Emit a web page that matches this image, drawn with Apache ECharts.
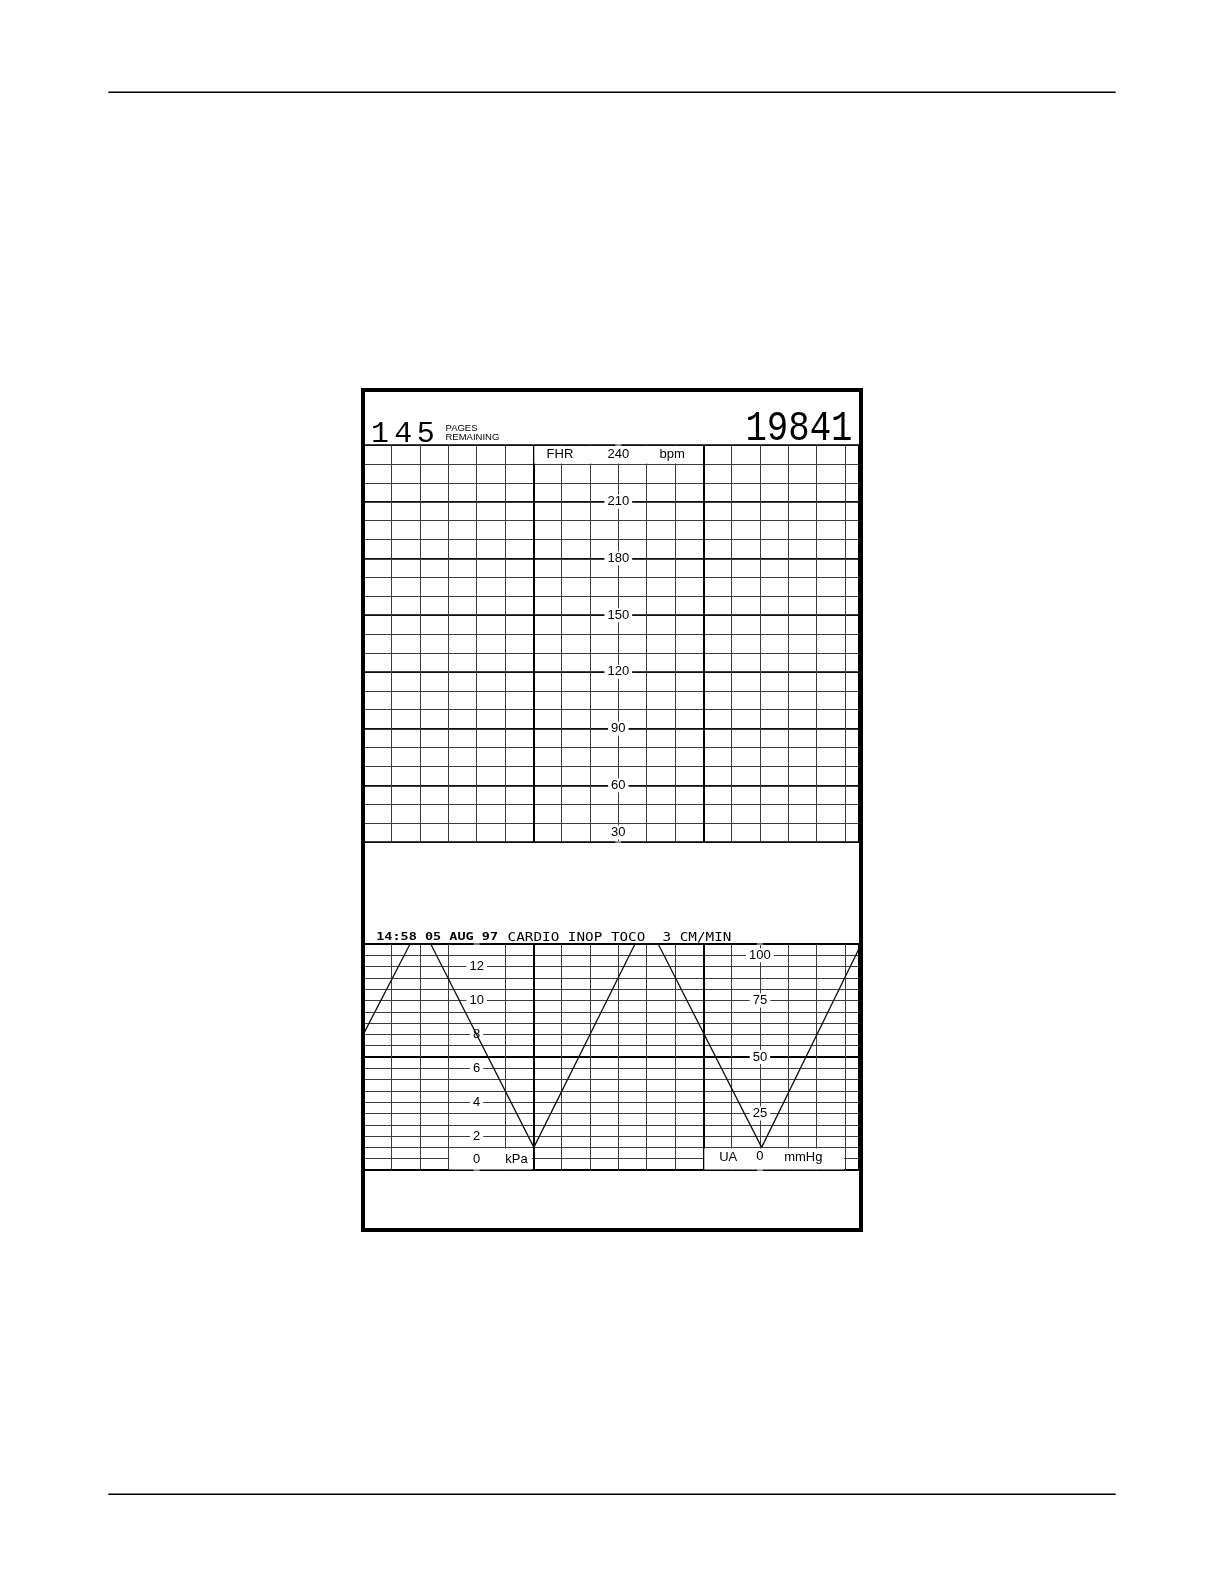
<!DOCTYPE html>
<html><head><meta charset="utf-8">
<script src="https://cdn.jsdelivr.net/npm/echarts@6/dist/echarts.min.js"></script>
<style>html,body{margin:0;padding:0;background:#fff}#c{width:1224px;height:1584px}</style>
</head><body><div id="c"></div>
<script>
// ---------- data ----------
const timeSec = [0, 16.5, 23.8, 60.2, 95.9, 104.1, 140.6, 175];   // seconds along paper
const uaMmHg  = [60, 100, 100, 10, 100, 100, 10, 98];              // uterine activity trace
const fhrTickLabels  = [60, 90, 120, 150, 180, 210];
const kpaTickLabels  = [2, 4, 6, 8, 10, 12];
const mmHgTickLabels = [25, 50, 75];
const pagesDigits = ['1', '4', '5'];
const serialNo = '19841';
const headerBold = '14:58 05 AUG 97';
const headerRest = 'CARDIO INOP TOCO  3 CM/MIN';

const FHR_MIN = 30, FHR_MAX = 240;
const UA_MIN = 0, UA_MAX = 100;
const T_MIN = 0, T_MAX = 175;
const KPA_PER_MMHG = 1 / 7.50062;

const chart = echarts.init(document.getElementById('c'), null, {renderer: 'canvas'});

const MINOR = '#3c3c3c', MAJOR = '#000';
const LBL = {fontFamily: 'Liberation Sans', fontSize: 13, color: '#000'};

function xAx(gi, interval, color, width) {
  return {gridIndex: gi, type: 'value', min: T_MIN, max: T_MAX, interval: interval,
    axisLine: {show: false, onZero: false}, axisTick: {show: false}, axisLabel: {show: false},
    splitLine: {show: true, lineStyle: {color: color, width: width}}, z: 0};
}
function yAx(gi, min, max, interval, color, width) {
  return {gridIndex: gi, type: 'value', position: 'left', min: min, max: max, interval: interval,
    axisLine: {show: false, onZero: false}, axisTick: {show: false}, axisLabel: {show: false},
    splitLine: {show: true, lineStyle: {color: color, width: width}}, z: 0};
}
function yLabelAx(gi, min, max, interval, offsetSec, shown) {
  return {gridIndex: gi, type: 'value', position: 'left', min: min, max: max, interval: interval,
    offset: -offsetSec * (495.8 / (T_MAX - T_MIN)),
    axisLine: {show: false, onZero: false}, axisTick: {show: false}, splitLine: {show: false},
    axisLabel: Object.assign({show: true, margin: 0, align: 'center', verticalAlign: 'middle',
      backgroundColor: '#fff', padding: [1, 3, 0, 3],
      formatter: function (v) { return shown.indexOf(Math.round(v * 1000) / 1000) >= 0 ? String(v) : ''; }}, LBL),
    z: 3};
}

// lower minor vertical lines: the kPa label column (40 s) carries no line
const lowerMinorColors = [];
for (let t = 0; t <= 170; t += 10) lowerMinorColors.push(t === 40 ? 'rgba(0,0,0,0)' : MINOR);
lowerMinorColors.push(MINOR);

const lowerMinorX = xAx(1, 10, MINOR, 1);
lowerMinorX.splitLine.lineStyle.color = lowerMinorColors;

chart.setOption({
  animation: false,
  backgroundColor: '#fff',
  textStyle: {fontFamily: 'Liberation Sans'},
  grid: [
    {left: 363.3, top: 445, width: 495.8, height: 397},
    {left: 363.3, top: 944, width: 495.8, height: 226}
  ],
  xAxis: [
    xAx(0, 10, MINOR, 1),
    xAx(0, 60, MAJOR, 2),
    lowerMinorX,
    xAx(1, 60, MAJOR, 2)
  ],
  yAxis: [
    yAx(0, FHR_MIN, FHR_MAX, 10, MINOR, 1),
    yAx(0, FHR_MIN, FHR_MAX, 30, MAJOR, 1.6),
    yLabelAx(0, FHR_MIN, FHR_MAX, 30, 90, fhrTickLabels),
    yAx(1, UA_MIN, UA_MAX, 5, MINOR, 1),
    yAx(1, UA_MIN, UA_MAX, 50, MAJOR, 1.8),
    yLabelAx(1, UA_MIN, UA_MAX, 25, 140, mmHgTickLabels),
    yLabelAx(1, UA_MIN * KPA_PER_MMHG, UA_MAX * KPA_PER_MMHG, 2, 40, kpaTickLabels)
  ],
  series: [{
    type: 'line', xAxisIndex: 2, yAxisIndex: 3,
    data: timeSec.map(function (t, i) { return [t, uaMmHg[i]]; }),
    symbol: 'none', clip: false, silent: true, z: 10,
    lineStyle: {color: '#111', width: 1.3}
  }]
});

const P0 = (x, y) => chart.convertToPixel({xAxisIndex: 0, yAxisIndex: 0}, [x, y]);
const P1 = (x, y) => chart.convertToPixel({xAxisIndex: 2, yAxisIndex: 3}, [x, y]);

function txt(p, s, styleExtra, elExtra) {
  const el = {type: 'text', x: p[0], y: p[1], z: 4, silent: true,
    style: Object.assign({text: s, fill: '#000', fontFamily: 'Liberation Sans', fontSize: 13,
      align: 'center', verticalAlign: 'middle'}, styleExtra || {})};
  return Object.assign(el, elExtra || {});
}
function box(a, b, insetR) {
  return {type: 'rect', z: 2, silent: true,
    shape: {x: a[0] + 1, y: a[1] + 1, width: b[0] - a[0] - 1 - insetR, height: b[1] - a[1] - 1.5},
    style: {fill: '#fff'}};
}
function line(x1, y1, x2, y2, w) {
  return {type: 'line', z: 20, silent: true, shape: {x1: x1, y1: y1, x2: x2, y2: y2},
    style: {stroke: '#000', lineWidth: w}};
}

const g = [];
// page rules
g.push(line(108.3, 92.3, 1115.7, 92.3, 1.4));
g.push(line(108.3, 1494.3, 1115.7, 1494.3, 1.4));
// paper frame
g.push({type: 'rect', z: 20, silent: true, shape: {x: 363, y: 390, width: 498, height: 840},
  style: {fill: 'none', stroke: '#000', lineWidth: 4}});

// header of paper
const digitX = [380, 403.3, 425.7];
pagesDigits.forEach(function (d, i) {
  g.push(txt([digitX[i], 434.5], d, {fontFamily: 'Liberation Mono', fontSize: 30}));
});
g.push(txt([445.5, 428.5], 'PAGES', {fontSize: 9.5, align: 'left'}));
g.push(txt([445.5, 437.2], 'REMAINING', {fontSize: 9.5, align: 'left'}));
g.push(txt([852.5, 429], serialNo, {fontFamily: 'Liberation Mono', fontSize: 43, align: 'right'}, {scaleX: 0.83}));

// FHR header box
g.push(box(P0(60, 240), P0(120, 230), 1.5));
g.push(txt(P0(69.4, 235), 'FHR'));
g.push(txt(P0(90, 235), '240'));
g.push(txt(P0(109, 235), 'bpm'));
g.push(txt(P0(90, 35), '30', {backgroundColor: '#fff', padding: [1, 3, 0, 3]}));

// lower header line
g.push(txt([376.2, 937.6], headerBold, {fontFamily: 'DejaVu Sans Mono', fontWeight: 'bold', fontSize: 13.5, align: 'left'}, {scaleY: 0.8}));
g.push(txt([507.6, 937.6], headerRest, {fontFamily: 'DejaVu Sans Mono', fontSize: 14.3, align: 'left'}, {scaleY: 0.8}));

// kPa box
g.push(box(P1(30, 10), P1(60, 0), 1.5));
g.push(txt(P1(40, 4.9), '0'));
g.push(txt(P1(54.1, 4.9), 'kPa'));
// UA box
g.push(box(P1(120, 10), P1(170, 0), 1));
g.push(txt(P1(128.8, 5.6), 'UA'));
g.push(txt(P1(140, 5.8), '0'));
g.push(txt(P1(155.3, 5.6), 'mmHg'));
g.push(txt(P1(140, 95), '100', {backgroundColor: '#fff', padding: [1, 3, 0, 3]}));

chart.setOption({graphic: g});
</script></body></html>
